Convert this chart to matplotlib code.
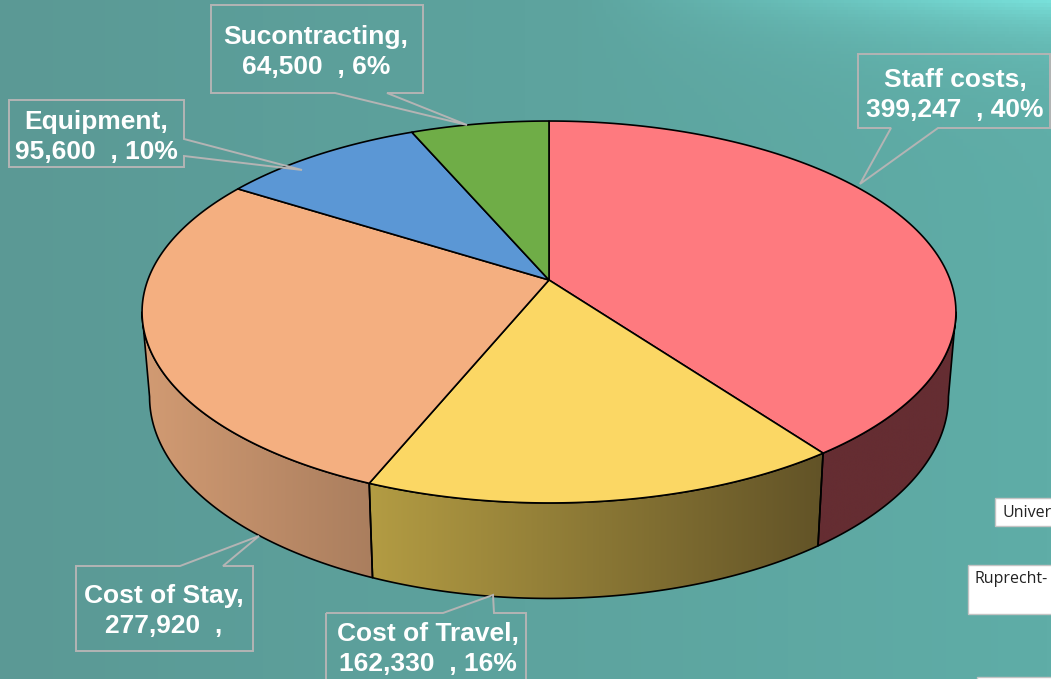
import numpy as np
import matplotlib
matplotlib.use('Agg')
import matplotlib.pyplot as plt
from matplotlib.patches import Polygon

W = 1051
H = 679

# data, clockwise from the top
categories = ['Staff costs', 'Cost of Travel', 'Cost of Stay', 'Equipment', 'Sucontracting']
values = [399247, 162330, 277920, 95600, 64500]
value_labels = ['399,247', '162,330', '277,920', '95,600', '64,500']
percent_labels = ['40%', '16%', '', '10%', '6%']

top_colors = ['#FE7A7F', '#FBD764', '#F4AF80', '#5B97D5', '#6FAD47']
# side wall colours, left end and right end of the gradient
side_colors = [('#652D32', '#652D32'), ('#B39C43', '#625327'), ('#D29B73', '#AA7E5E')]

# label box (x0, y0, x1, y1), tail points, text centre
boxes = [(858, 54, 1050, 128), (326, 613, 526, 695), (76, 566, 253, 651), (9, 100, 184, 167), (211, 5, 423, 93)]
tails = [[(891, 128), (860, 184), (938, 128)],
         [(494, 613), (493, 595), (443, 613)],
         [(180, 566), (259, 536), (223, 566)],
         [(184, 139), (302, 170), (184, 156)],
         [(387, 93), (467, 125), (335, 93)]]
text_pos = [(955, 95), (428, 649), (164, 611), (96, 137), (316, 52)]

# pie geometry in pixels: tilted disc with a bit of perspective
CX = 549
K = 0.1675
TOP_Y, TOP_A, TOP_B = 280, 185.6, 401.2
BOT_Y, BOT_A, BOT_B = 363, 196.0, 393.8


def project(theta, y0, a, b):
    u = np.sin(theta)
    v = np.cos(theta)
    d = 1 + K * v
    return CX + b * u / d, y0 - a * v / d


def top_arc(t0, t1):
    t = np.linspace(t0, t1, 120)
    return np.column_stack(project(t, TOP_Y, TOP_A, TOP_B))


def bottom_arc(t0, t1):
    t = np.linspace(t0, t1, 120)
    return np.column_stack(project(t, BOT_Y, BOT_A, BOT_B))


def to_rgb(c):
    return np.array(matplotlib.colors.to_rgb(c))


fig = plt.figure(figsize=(W / 100, H / 100), dpi=100)
ax = fig.add_axes([0, 0, 1, 1])

# background: teal, lighter to the right, glow in the top right corner
xx, yy = np.meshgrid(np.linspace(0, 1, 300), np.linspace(0, 1, 200))
left = to_rgb('#5B9995')
right = to_rgb('#5FADA7')
bg = left + (right - left) * xx[..., None]
glow = np.clip((xx - 0.55) / 0.45, 0, 1) ** 1.2 * np.exp(-yy / 0.05)
bg = bg + (to_rgb('#78E0DA') - bg) * glow[..., None]
ax.imshow(bg, extent=(0, W, H, 0), aspect='auto', zorder=0)

# cumulative angles from the values
fracs = np.array(values) / sum(values)
edges = np.concatenate([[0], np.cumsum(fracs)]) * 2 * np.pi

# walls are only visible between the two tangent angles
th_min = np.arccos(-K)
th_max = 2 * np.pi - th_min

for i in range(3):
    a = max(edges[i], th_min)
    b = min(edges[i + 1], th_max)
    pts = np.vstack([top_arc(a, b), bottom_arc(a, b)[::-1]])
    c0, c1 = side_colors[i]
    grad = np.linspace(to_rgb(c0), to_rgb(c1), 256)[None, :, :]
    x0, x1 = pts[:, 0].min(), pts[:, 0].max()
    y0, y1 = pts[:, 1].min(), pts[:, 1].max()
    im = ax.imshow(grad, extent=(x0, x1, y1, y0), aspect='auto', zorder=1)
    poly = Polygon(pts, closed=True, facecolor='none', edgecolor='black', lw=1.2, zorder=2, joinstyle='round')
    ax.add_patch(poly)
    im.set_clip_path(poly)

for i in range(len(values)):
    pts = np.vstack([[[CX, TOP_Y]], top_arc(edges[i], edges[i + 1])])
    ax.add_patch(Polygon(pts, closed=True, facecolor=top_colors[i], edgecolor='black', lw=1.2, zorder=3, joinstyle='round'))

# callouts
for i in range(len(categories)):
    x0, y0, x1, y1 = boxes[i]
    tail = tails[i]
    if tail[0][1] == tail[2][1] and tail[0][1] == y0:
        # tail on the top edge, walking clockwise from top left
        outline = [(x0, y0), min(tail[0], tail[2]), tail[1], max(tail[0], tail[2]), (x1, y0), (x1, y1), (x0, y1)]
    elif tail[0][1] == tail[2][1]:
        # tail on the bottom edge
        outline = [(x0, y0), (x1, y0), (x1, y1), max(tail[0], tail[2]), tail[1], min(tail[0], tail[2]), (x0, y1)]
    else:
        # tail on the right edge
        outline = [(x0, y0), (x1, y0), tail[0], tail[1], tail[2], (x1, y1), (x0, y1)]
    ax.add_patch(Polygon(outline, closed=True, facecolor='none', edgecolor='#B4B4B4', lw=1.4, zorder=4))
    label = categories[i] + ',\n' + value_labels[i] + '  , ' + percent_labels[i]
    ax.text(text_pos[i][0], text_pos[i][1], label.rstrip(), color='white', fontsize=19, ha='center', va='center',
            linespacing=1.3, zorder=5, family='Liberation Sans', fontweight='bold')

# bits of other slide elements cut off by the right edge
for x0, y0, y1 in [(995, 498, 526), (968, 565, 614), (977, 677, 700)]:
    ax.add_patch(Polygon([(x0, y0), (W + 5, y0), (W + 5, y1), (x0, y1)], closed=True, facecolor='white',
                         edgecolor='#C4C4C4', lw=1.0, zorder=4))
ax.text(1003, 513, 'Univer', fontsize=11.5, color='#222222', family='Open Sans', ha='left', va='center', zorder=5)
ax.text(975, 579, 'Ruprecht-', fontsize=11.5, color='#222222', family='Open Sans', ha='left', va='center', zorder=5)

ax.set_xlim(0, W)
ax.set_ylim(H, 0)
ax.axis('off')
fig.savefig('out.png', dpi=100)
